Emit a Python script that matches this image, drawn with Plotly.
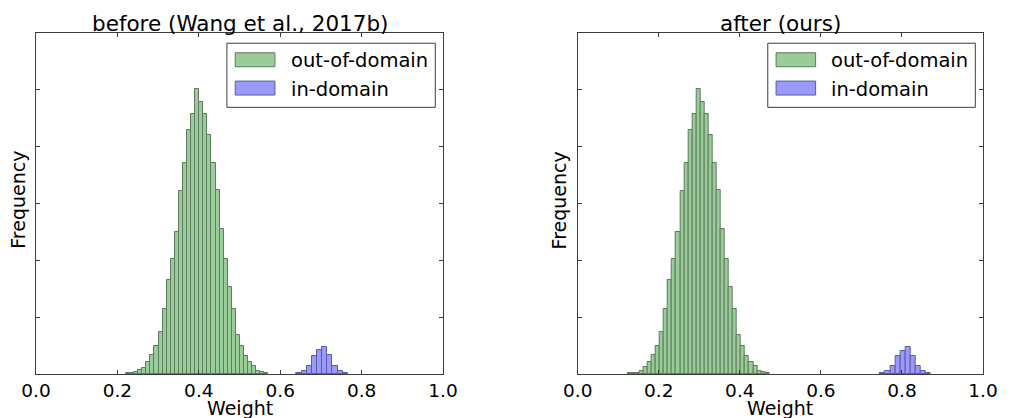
import plotly.graph_objects as go
from plotly.subplots import make_subplots

# ---------------- data ----------------
titles = ["before (Wang et al., 2017b)", "after (ours)"]
series_names = ["out-of-domain", "in-domain"]
x_ticks = [0.0, 0.2, 0.4, 0.6, 0.8, 1.0]
x_tick_labels = ["0.0", "0.2", "0.4", "0.6", "0.8", "1.0"]

green_bin_width = 0.01
blue_bin_width = 0.0126

# before: out-of-domain histogram (bin centres, counts)
before_out_x = [0.226, 0.236, 0.246, 0.256, 0.266, 0.276, 0.286, 0.296, 0.306, 0.316,
                0.326, 0.336, 0.346, 0.356, 0.366, 0.376, 0.386, 0.396, 0.406, 0.416,
                0.426, 0.436, 0.446, 0.456, 0.466, 0.476, 0.486, 0.496, 0.506, 0.516,
                0.526, 0.536, 0.546, 0.556, 0.566]
before_out_y = [12, 18, 35, 70, 106, 217, 329, 493, 745, 1150,
                1650, 2019, 2506, 3222, 3721, 4285, 4572, 5013, 4783, 4572,
                4208, 3709, 3240, 2547, 2031, 1532, 1150, 687, 493, 317,
                217, 141, 53, 29, 12]
# before: in-domain histogram
before_in_x = [0.6463, 0.6589, 0.6715, 0.6841, 0.6967, 0.7093, 0.7219, 0.7345, 0.7471, 0.7597]
before_in_y = [18, 47, 135, 323, 417, 470, 329, 135, 53, 12]

# after: out-of-domain histogram
after_out_x = [0.128, 0.138, 0.148, 0.158, 0.168, 0.178, 0.188, 0.198, 0.208, 0.218,
               0.228, 0.238, 0.248, 0.258, 0.268, 0.278, 0.288, 0.298, 0.308, 0.318,
               0.328, 0.338, 0.348, 0.358, 0.368, 0.378, 0.388, 0.398, 0.408, 0.418,
               0.428, 0.438, 0.448, 0.458, 0.468]
after_out_y = [12, 18, 23, 59, 117, 217, 329, 493, 745, 1150,
               1650, 2019, 2506, 3222, 3721, 4285, 4572, 5013, 4783, 4572,
               4208, 3709, 3240, 2547, 2031, 1532, 1150, 687, 493, 317,
               217, 141, 53, 29, 12]
# after: in-domain histogram
after_in_x = [0.7523, 0.7649, 0.7775, 0.7901, 0.8027, 0.8153, 0.8279, 0.8405, 0.8531, 0.8657]
after_in_y = [18, 47, 135, 323, 411, 470, 323, 135, 53, 12]

y_max = 6000
y_ticks = [0, 1000, 2000, 3000, 4000, 5000, 6000]

# ---------------- style ----------------
FONT = "DejaVu Sans"
GREEN_FILL = "#99cc99"
GREEN_EDGE = "rgb(92,122,92)"
BLUE_FILL = "#9999ff"
BLUE_EDGE = "rgb(92,92,153)"
FRAME = "rgb(60,60,60)"

fig = make_subplots(rows=1, cols=2, horizontal_spacing=0.142)

panels = [
    (before_out_x, before_out_y, before_in_x, before_in_y),
    (after_out_x, after_out_y, after_in_x, after_in_y),
]
for i, (ox, oy, ix, iy) in enumerate(panels, start=1):
    fig.add_trace(go.Bar(x=ox, y=oy, width=green_bin_width, name=series_names[0],
                         marker=dict(color=GREEN_FILL, line=dict(color=GREEN_EDGE, width=1)),
                         showlegend=False, hoverinfo="x+y"), row=1, col=i)
    fig.add_trace(go.Bar(x=ix, y=iy, width=blue_bin_width, name=series_names[1],
                         marker=dict(color=BLUE_FILL, line=dict(color=BLUE_EDGE, width=1)),
                         showlegend=False, hoverinfo="x+y"), row=1, col=i)

axis_common = dict(showline=True, linecolor=FRAME, linewidth=1, mirror="ticks",
                   ticks="inside", ticklen=4, tickcolor=FRAME, tickwidth=1,
                   showgrid=False, zeroline=False)
for i in (1, 2):
    fig.update_xaxes(range=[0, 1], tickvals=x_ticks, ticktext=x_tick_labels,
                     tickfont=dict(family=FONT, size=18.5, color="black"),
                     row=1, col=i, **axis_common)
    fig.update_yaxes(range=[0, y_max], tickvals=y_ticks, showticklabels=False,
                     row=1, col=i, **axis_common)

fig.update_layout(xaxis=dict(domain=[0, 0.4298]), xaxis2=dict(domain=[0.572, 1.0]))

annotations = []
shapes = []
for i, (xr, yr, xc_paper, ylab_x) in enumerate([("x domain", "y domain", 0.2149, -0.0194),
                                                 ("x2 domain", "y2 domain", 0.786, 0.5526)]):
    annotations.append(dict(text=titles[i], xref="paper", yref="paper", x=xc_paper, y=1.0293,
                            xanchor="center", yanchor="middle", showarrow=False,
                            font=dict(family=FONT, size=21.5, color="black")))
    annotations.append(dict(text="Weight", xref="paper", yref="paper", x=xc_paper, y=-0.0985,
                            xanchor="center", yanchor="middle", showarrow=False,
                            font=dict(family=FONT, size=19, color="black")))
    annotations.append(dict(text="Frequency", xref="paper", yref="paper", x=ylab_x, y=0.51,
                            xanchor="center", yanchor="middle", showarrow=False, textangle=-90,
                            font=dict(family=FONT, size=19, color="black")))
    # legend box
    shapes.append(dict(type="rect", xref=xr, yref=yr, x0=0.469, x1=0.981, y0=0.782, y1=0.970,
                       line=dict(color=FRAME, width=1), fillcolor="white", layer="above"))
    shapes.append(dict(type="rect", xref=xr, yref=yr, x0=0.4895, x1=0.587, y0=0.901, y1=0.942,
                       line=dict(color=GREEN_EDGE, width=1), fillcolor=GREEN_FILL, layer="above"))
    shapes.append(dict(type="rect", xref=xr, yref=yr, x0=0.4895, x1=0.587, y0=0.818, y1=0.859,
                       line=dict(color=BLUE_EDGE, width=1), fillcolor=BLUE_FILL, layer="above"))
    annotations.append(dict(text=series_names[0], xref=xr, yref=yr, x=0.621, y=0.920,
                            xanchor="left", yanchor="middle", showarrow=False,
                            font=dict(family=FONT, size=19.5, color="black")))
    annotations.append(dict(text=series_names[1], xref=xr, yref=yr, x=0.621, y=0.835,
                            xanchor="left", yanchor="middle", showarrow=False,
                            font=dict(family=FONT, size=19.5, color="black")))

fig.update_layout(width=1010, height=418, margin=dict(l=36, r=20, t=33, b=44),
                  barmode="overlay", bargap=0, plot_bgcolor="white", paper_bgcolor="white",
                  showlegend=False, annotations=annotations, shapes=shapes,
                  font=dict(family=FONT))

fig.write_html("out.html")
